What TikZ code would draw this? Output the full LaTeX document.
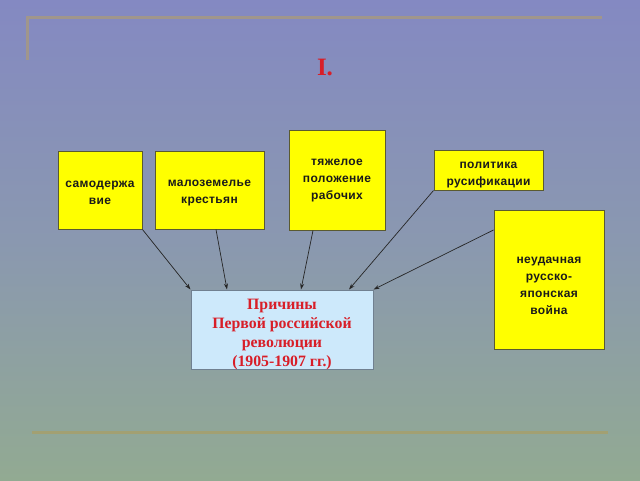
\documentclass[tikz,border=0pt]{standalone}
\usepackage{fontspec}
\setmainfont{Liberation Serif}
\newfontfamily\boxfont[LetterSpace=3]{Liberation Sans}
\usetikzlibrary{arrows.meta,calc}
\definecolor{bgtop}{HTML}{8489C2}
\definecolor{bgmid}{HTML}{8A98B0}
\definecolor{bgbot}{HTML}{92AA92}
\definecolor{topline}{HTML}{A0968C}
\definecolor{botline}{HTML}{A2A072}
\definecolor{ybox}{HTML}{FFFF00}
\definecolor{yborder}{HTML}{5A5A30}
\definecolor{cfill}{HTML}{CDE9FB}
\definecolor{cborder}{HTML}{708090}
\definecolor{redtxt}{HTML}{D81E28}
\definecolor{txt}{HTML}{1A1A1A}
\begin{document}
\begin{tikzpicture}[x=1pt,y=-1pt,
  ybox/.style={draw=yborder,line width=1pt,fill=ybox,inner sep=0pt},
  ytext/.style={align=center,inner sep=0pt,text=txt,
    font=\boxfont\bfseries\fontsize{12}{17}\selectfont},
  cbox/.style={draw=cborder,line width=1pt,fill=cfill,inner sep=0pt},
  ctext/.style={align=center,inner sep=0pt,text=redtxt,
    font=\bfseries\fontsize{15.8}{19}\selectfont},
  arr/.style={-{Stealth[length=6pt,width=4pt]},line width=0.7pt,draw=black!85}]
\useasboundingbox (0,0) rectangle (640,480);
\shade[top color=bgtop,bottom color=bgmid] (0,0) rectangle (640,240);
\shade[top color=bgmid,bottom color=bgbot] (0,240) rectangle (640,480);
% decorative lines
\draw[topline,line width=3pt] (27,60) -- (27,17) -- (602,17);
\draw[botline,line width=3pt] (32,432) -- (608,432);
% title
\node[text=redtxt,font=\bfseries\fontsize{25}{25}\selectfont] (title) at (325,67) {I.};
% boxes
\node[ybox,minimum width=84pt,minimum height=78pt] (b1) at (100,190) {};
\node[ytext] (t1) at (100,193) {самодержа\\вие};
\node[ybox,minimum width=109pt,minimum height=78pt] (b2) at (209.5,190) {};
\node[ytext] (t2) at (209.5,193) {малоземелье\\крестьян};
\node[ybox,minimum width=96pt,minimum height=100pt] (b3) at (337,180) {};
\node[ytext] (t3) at (337,180.5) {тяжелое\\положение\\рабочих};
\node[ybox,minimum width=109pt,minimum height=40pt] (b4) at (488.5,170) {};
\node[ytext] (t4) at (488.5,175) {политика\\русификации};
\node[ybox,minimum width=110pt,minimum height=139pt] (b5) at (549,280) {};
\node[ytext] (t5) at (549,286) {неудачная\\русско-\\японская\\война};
\node[cbox,minimum width=182pt,minimum height=79pt] (c) at (282,329.5) {};
\node[ctext] (ct) at (282,335) {Причины\\Первой российской\\революции\\(1905-1907 гг.)};
% arrows
\draw[arr] (b1.south east) -- (c.north west);
\draw[arr] ([xshift=6.5pt]b2.south) -- ([xshift=-55pt]c.north);
\draw[arr] ([xshift=-24pt]b3.south) -- ([xshift=19pt]c.north);
\draw[arr] (b4.south west) -- ([xshift=67pt]c.north);
\draw[arr] ([yshift=-20pt]b5.north west) -- (c.north east);
\end{tikzpicture}
\end{document}
